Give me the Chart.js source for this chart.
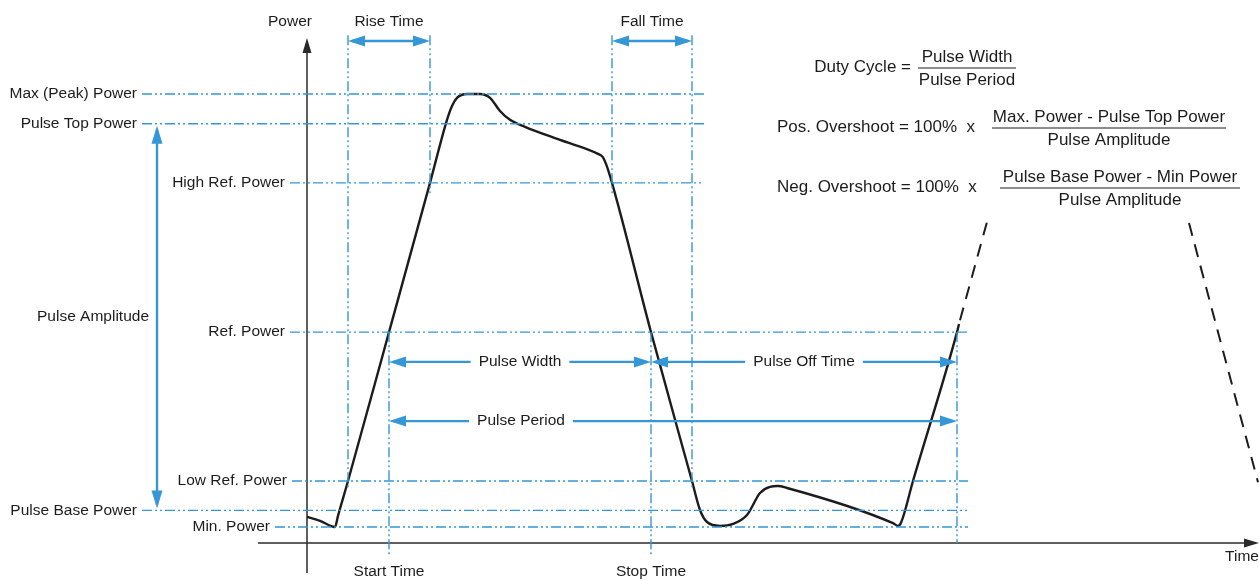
<!DOCTYPE html>
<html>
<head>
<meta charset="utf-8">
<script src="https://cdn.jsdelivr.net/npm/chart.js@4.4.1/dist/chart.umd.min.js"></script>
<style>
  html, body { margin: 0; padding: 0; background: #fff; }
  #wrap { width: 1259px; height: 580px; }
</style>
</head>
<body>
<div id="wrap"><canvas id="pulseChart" width="1259" height="580"></canvas></div>
<script>
// power levels, % of pulse amplitude (pulse base = 0, pulse top = 100)
const levelNames = ['Max (Peak) Power', 'Pulse Top Power', 'High Ref. Power', 'Ref. Power', 'Low Ref. Power', 'Pulse Base Power', 'Min. Power'];
const levelValues = [107.7, 100, 84.7, 46.1, 7.6, 0, -4.3];

// time markers (arbitrary time units, 0 = power axis)
const markerNames = ['Rise start', 'Rise end', 'Fall start', 'Fall end', 'Start Time', 'Stop Time', 'Period end'];
const markerTimes = [4.1, 12.3, 30.5, 38.5, 8.2, 34.4, 65.0];

// the measured pulse trace
const traceTime = [0.0, 1.3, 2.8, 3.1, 4.1, 8.2, 12.3, 14.0, 14.5, 15.0, 16.0, 17.3, 18.3, 19.3, 20.3, 21.8, 25.3, 29.1, 29.6, 29.9, 30.5,
  34.4, 38.5, 39.3, 40.0, 41.3, 42.6, 44.0, 45.3, 46.3, 47.1, 48.0, 58.6, 59.1, 59.4, 60.6, 65.0, 65.2];
const tracePower = [-1.7, -2.7, -4.3, -1.4, 7.6, 46.1, 84.7, 101.0, 104.6, 106.7, 107.7, 107.7, 106.7, 103.3, 101.0, 99.2, 95.8, 92.2, 91.3, 89.6, 84.7,
  46.1, 7.6, 0.1, -3.0, -4.0, -3.5, -1.2, 4.5, 6.1, 6.3, 5.8, -3.3, -4.0, -3.2, 7.6, 46.1, 48.2];

// next pulse, sketched dashed
const nextRiseTime = [65.3, 68.0];
const nextRisePower = [49.2, 74.6];
const nextFallTime = [88.2, 95.1];
const nextFallPower = [74.3, 7.3];

// ---- layout ----
const BLUE = '#3597d6';
const INK = '#1c1c1c';
const FONT = "'Liberation Sans', Arial, sans-serif";
const dashDot = [10, 3, 2, 3, 2, 3];

const levelFrom = [-16.5, -16.5, -1.7, -1.7, -1.5, -16.5, -3.2];
const levelTo = [39.7, 39.7, 39.7, 66.1, 66.1, 66.1, 66.1];
const markerTop = [122.9, 122.9, 122.9, 122.9, 46.1, 46.1, 46.1];
const markerBottom = [5.3, 81.6, 81.6, 5.3, -12.1, -12.1, -8.4];

const datasets = [];
levelNames.forEach((name, i) => {
  datasets.push({
    label: name,
    data: [{ x: levelFrom[i], y: levelValues[i] }, { x: levelTo[i], y: levelValues[i] }],
    borderColor: BLUE, borderWidth: 1.4, borderDash: dashDot
  });
});
markerNames.forEach((name, i) => {
  datasets.push({
    label: name,
    data: [{ x: markerTimes[i], y: markerTop[i] }, { x: markerTimes[i], y: markerBottom[i] }],
    borderColor: BLUE, borderWidth: 1.4, borderDash: dashDot
  });
});
datasets.push({
  label: 'Pulse',
  data: traceTime.map((t, i) => ({ x: t, y: tracePower[i] })),
  borderColor: INK, borderWidth: 2.4, cubicInterpolationMode: 'monotone'
});
datasets.push({
  label: 'Next rise',
  data: nextRiseTime.map((t, i) => ({ x: t, y: nextRisePower[i] })),
  borderColor: INK, borderWidth: 2, borderDash: [13, 9]
});
datasets.push({
  label: 'Next fall',
  data: nextFallTime.map((t, i) => ({ x: t, y: nextFallPower[i] })),
  borderColor: INK, borderWidth: 2, borderDash: [13, 9]
});
datasets.forEach(d => { d.showLine = true; d.pointRadius = 0; d.clip = false; d.fill = false; });

function head(ctx, x, y, ang, len, half) {
  const c = Math.cos(ang), s = Math.sin(ang);
  ctx.beginPath();
  ctx.moveTo(x, y);
  ctx.lineTo(x - len * c - half * s, y - len * s + half * c);
  ctx.lineTo(x - len * c + half * s, y - len * s - half * c);
  ctx.closePath();
  ctx.fill();
}

function hArrow(ctx, x1, x2, y, label, cx) {
  ctx.strokeStyle = BLUE; ctx.fillStyle = BLUE; ctx.lineWidth = 2.4;
  ctx.beginPath();
  if (label) {
    ctx.font = '15.5px ' + FONT;
    const w = ctx.measureText(label).width;
    ctx.moveTo(x1 + 4, y); ctx.lineTo(cx - w / 2 - 8, y);
    ctx.moveTo(cx + w / 2 + 8, y); ctx.lineTo(x2 - 4, y);
  } else {
    ctx.moveTo(x1 + 4, y); ctx.lineTo(x2 - 4, y);
  }
  ctx.stroke();
  head(ctx, x1, y, Math.PI, 17, 5.5);
  head(ctx, x2, y, 0, 17, 5.5);
  if (label) {
    ctx.fillStyle = INK; ctx.textAlign = 'center'; ctx.textBaseline = 'middle';
    ctx.fillText(label, cx, y);
  }
}

function text(ctx, s, x, y, align, size) {
  ctx.font = (size || 15.5) + 'px ' + FONT;
  ctx.fillStyle = INK;
  ctx.textAlign = align || 'center';
  ctx.textBaseline = 'middle';
  ctx.fillText(s, x, y);
}

function fraction(ctx, num, den, cx, y, x1, x2) {
  text(ctx, num, cx, y - 11, 'center', 17);
  text(ctx, den, cx, y + 12, 'center', 17);
  ctx.strokeStyle = INK; ctx.lineWidth = 1.2;
  ctx.beginPath(); ctx.moveTo(x1, y); ctx.lineTo(x2, y); ctx.stroke();
}

const diagramPlugin = {
  id: 'pulseDiagram',
  beforeDatasetsDraw(chart) {
    const ctx = chart.ctx;
    const X = v => chart.scales.x.getPixelForValue(v);
    const Y = v => chart.scales.y.getPixelForValue(v);
    ctx.save();
    ctx.strokeStyle = '#2a2a2a'; ctx.fillStyle = '#2a2a2a'; ctx.lineWidth = 1.5;
    // power axis
    ctx.beginPath(); ctx.moveTo(X(0), Y(-16.2)); ctx.lineTo(X(0), Y(122.2) + 10); ctx.stroke();
    head(ctx, X(0), Y(122.2), -Math.PI / 2, 15, 4.5);
    // time axis
    ctx.beginPath(); ctx.moveTo(X(-4.9), Y(-8.4)); ctx.lineTo(X(95.2) - 10, Y(-8.4)); ctx.stroke();
    head(ctx, X(95.2), Y(-8.4), 0, 15, 4.5);
    ctx.restore();
  },
  afterDatasetsDraw(chart) {
    const ctx = chart.ctx;
    const X = v => chart.scales.x.getPixelForValue(v);
    const Y = v => chart.scales.y.getPixelForValue(v);
    ctx.save();

    // level labels
    levelNames.forEach((name, i) => text(ctx, name, X(levelFrom[i]) - 5, Y(levelValues[i]), 'right'));

    // time arrows
    const topY = Y(121.4);
    hArrow(ctx, X(markerTimes[0]), X(markerTimes[1]), topY);
    hArrow(ctx, X(markerTimes[2]), X(markerTimes[3]), topY);
    text(ctx, 'Rise Time', (X(markerTimes[0]) + X(markerTimes[1])) / 2, Y(126.3));
    text(ctx, 'Fall Time', (X(markerTimes[2]) + X(markerTimes[3])) / 2, Y(126.3));
    hArrow(ctx, X(markerTimes[4]), X(markerTimes[5]), Y(38.4), 'Pulse Width', X(21.3));
    hArrow(ctx, X(markerTimes[5]), X(markerTimes[6]), Y(38.4), 'Pulse Off Time', X(49.7));
    hArrow(ctx, X(markerTimes[4]), X(markerTimes[6]), Y(23.1), 'Pulse Period', X(21.4));

    // pulse amplitude arrow
    const ax = X(-15.0);
    ctx.strokeStyle = BLUE; ctx.fillStyle = BLUE; ctx.lineWidth = 2.4;
    ctx.beginPath(); ctx.moveTo(ax, Y(levelValues[1]) + 6); ctx.lineTo(ax, Y(levelValues[5]) - 6); ctx.stroke();
    head(ctx, ax, Y(levelValues[1]) + 2, -Math.PI / 2, 18, 5.5);
    head(ctx, ax, Y(levelValues[5]) - 2, Math.PI / 2, 18, 5.5);
    text(ctx, 'Pulse Amplitude', X(-21.4), Y(50));

    // axis titles and time labels
    text(ctx, 'Power', X(-1.7), Y(126.3));
    text(ctx, 'Time', X(93.5), Y(-12.1));
    text(ctx, 'Start Time', X(markerTimes[4]), Y(-15.9));
    text(ctx, 'Stop Time', X(markerTimes[5]), Y(-15.9));

    // formulas
    text(ctx, 'Duty Cycle =', 911, 67, 'right', 17);
    fraction(ctx, 'Pulse Width', 'Pulse Period', 967, 68, 918, 1016);
    text(ctx, 'Pos. Overshoot = 100%  x', 777, 127, 'left', 17);
    fraction(ctx, 'Max. Power - Pulse Top Power', 'Pulse Amplitude', 1109, 128, 992, 1226);
    text(ctx, 'Neg. Overshoot = 100%  x', 777, 187, 'left', 17);
    fraction(ctx, 'Pulse Base Power - Min Power', 'Pulse Amplitude', 1120, 188, 1000, 1240);

    ctx.restore();
  }
};

new Chart(document.getElementById('pulseChart'), {
  type: 'scatter',
  data: { datasets: datasets },
  options: {
    responsive: false,
    animation: false,
    events: [],
    layout: { padding: 0 },
    plugins: { legend: { display: false }, tooltip: { enabled: false } },
    scales: {
      x: { type: 'linear', display: false, min: -30.7, max: 95.2 },
      y: { type: 'linear', display: false, min: -18, max: 132 }
    }
  },
  plugins: [diagramPlugin]
});
</script>
</body>
</html>
